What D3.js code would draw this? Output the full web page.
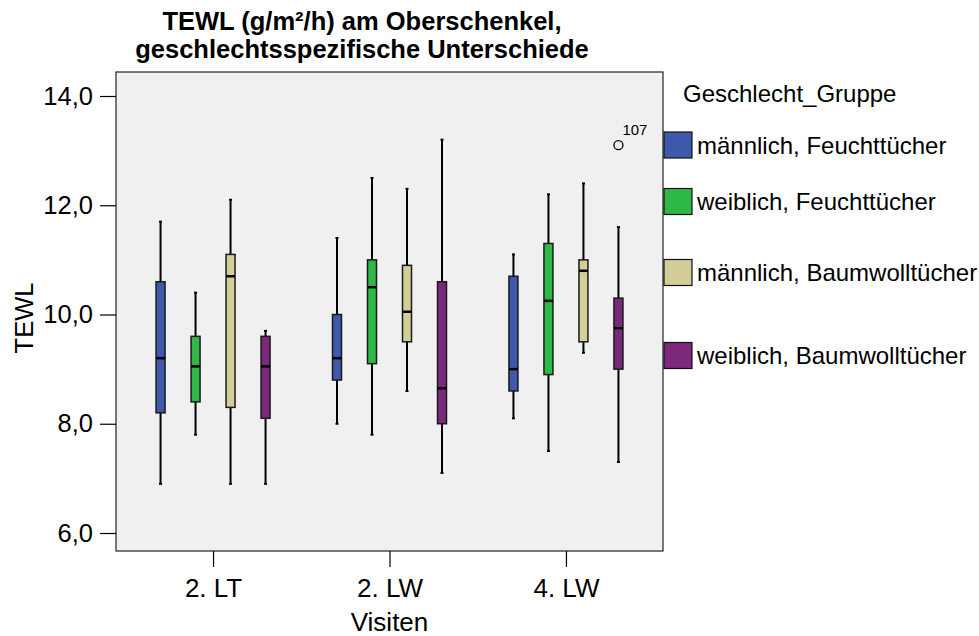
<!DOCTYPE html>
<html>
<head>
<meta charset="utf-8">
<script src="https://cdn.jsdelivr.net/npm/d3@7"></script>
<style>
  html, body { margin: 0; padding: 0; background: #ffffff; }
  svg text { font-family: "Liberation Sans", Arial, Helvetica, sans-serif; fill: #000; }
</style>
</head>
<body>
<svg id="chart" width="979" height="636"></svg>
<script>
// ---------------- data ----------------
const visits = ["2. LT", "2. LW", "4. LW"];
const groups = ["männlich, Feuchttücher", "weiblich, Feuchttücher", "männlich, Baumwolltücher", "weiblich, Baumwolltücher"];
const colors = ["#3E58AC", "#2EB848", "#D3CE97", "#7C287D"];
// per group: values for [2. LT, 2. LW, 4. LW]
const whiskerLow  = [[6.9, 8.0, 8.1], [7.8, 7.8, 7.5], [6.9, 8.6, 9.3], [6.9, 7.1, 7.3]];
const quartile1   = [[8.2, 8.8, 8.6], [8.4, 9.1, 8.9], [8.3, 9.5, 9.5], [8.1, 8.0, 9.0]];
const medians     = [[9.2, 9.2, 9.0], [9.05, 10.5, 10.25], [10.7, 10.05, 10.8], [9.05, 8.65, 9.75]];
const quartile3   = [[10.6, 10.0, 10.7], [9.6, 11.0, 11.3], [11.1, 10.9, 11.0], [9.6, 10.6, 10.3]];
const whiskerHigh = [[11.7, 11.4, 11.1], [10.4, 12.5, 12.2], [12.1, 12.3, 12.4], [9.7, 13.2, 11.6]];
const outliers = [{ group: 3, visit: "4. LW", value: 13.1, label: "107" }];
const yTicks = [6, 8, 10, 12, 14];
const titleLines = ["TEWL (g/m²/h) am Oberschenkel,", "geschlechtsspezifische Unterschiede"];
const yTitle = "TEWL";
const xTitle = "Visiten";
const legendTitle = "Geschlecht_Gruppe";

// ---------------- layout ----------------
const panel = { left: 116, right: 663, top: 72, bottom: 551 };
const svg = d3.select("#chart");
const fmt = d => d.toFixed(1).replace(".", ",");

const x = d3.scalePoint().domain(visits).range([panel.left, panel.right]).padding(0.55);
const inner = d3.scaleBand().domain(d3.range(groups.length)).range([-70, 70]);
const y = d3.scaleLinear().domain([6, 14]).range([533, 96]);
const boxW = 9;

// rows
const rows = [];
groups.forEach((g, gi) => visits.forEach((v, vi) => rows.push({
  gi, v,
  lo: whiskerLow[gi][vi], q1: quartile1[gi][vi], med: medians[gi][vi],
  q3: quartile3[gi][vi], hi: whiskerHigh[gi][vi]
})));
const cx = d => x(d.v) + inner(d.gi) + inner.bandwidth() / 2;

// panel background
svg.append("rect")
  .attr("x", panel.left).attr("y", panel.top)
  .attr("width", panel.right - panel.left).attr("height", panel.bottom - panel.top)
  .attr("fill", "#F0F0F0").attr("stroke", "#222").attr("stroke-width", 1.2);

// y axis
const yAxis = d3.axisLeft(y).tickValues(yTicks).tickFormat(fmt).tickSize(16).tickPadding(7);
const gy = svg.append("g").attr("transform", `translate(${panel.left},0)`).call(yAxis);
gy.select(".domain").remove();
gy.selectAll(".tick line").attr("stroke", "#000").attr("stroke-width", 1.2);
gy.selectAll(".tick text").attr("font-size", 25.5).attr("font-family", "Liberation Sans, Arial, sans-serif").attr("fill", "#000");

// x axis
const xAxis = d3.axisBottom(x).tickSize(16).tickPadding(12);
const gx = svg.append("g").attr("transform", `translate(0,${panel.bottom})`).call(xAxis);
gx.select(".domain").remove();
gx.selectAll(".tick line").attr("stroke", "#000").attr("stroke-width", 1.2);
gx.selectAll(".tick text").attr("font-size", 26).attr("font-family", "Liberation Sans, Arial, sans-serif").attr("fill", "#000");

// whiskers
const gBox = svg.append("g");
gBox.selectAll("line.whisk").data(rows).join("line")
  .attr("x1", cx).attr("x2", cx)
  .attr("y1", d => y(d.lo)).attr("y2", d => y(d.hi))
  .attr("stroke", "#000").attr("stroke-width", 2);
// caps
gBox.selectAll("line.capLo").data(rows).join("line")
  .attr("x1", d => cx(d) - 1.5).attr("x2", d => cx(d) + 1.5)
  .attr("y1", d => y(d.lo)).attr("y2", d => y(d.lo))
  .attr("stroke", "#000").attr("stroke-width", 2);
gBox.selectAll("line.capHi").data(rows).join("line")
  .attr("x1", d => cx(d) - 1.5).attr("x2", d => cx(d) + 1.5)
  .attr("y1", d => y(d.hi)).attr("y2", d => y(d.hi))
  .attr("stroke", "#000").attr("stroke-width", 2);
// boxes
gBox.selectAll("rect.box").data(rows).join("rect")
  .attr("x", d => cx(d) - boxW / 2).attr("width", boxW)
  .attr("y", d => y(d.q3)).attr("height", d => y(d.q1) - y(d.q3))
  .attr("fill", d => colors[d.gi]).attr("stroke", "#1a1a1a").attr("stroke-width", 1.5);
// medians
gBox.selectAll("line.med").data(rows).join("line")
  .attr("x1", d => cx(d) - boxW / 2).attr("x2", d => cx(d) + boxW / 2)
  .attr("y1", d => y(d.med)).attr("y2", d => y(d.med))
  .attr("stroke", "#000").attr("stroke-width", 2.5);

// outliers
outliers.forEach(o => {
  const ox = x(o.visit) + inner(o.group) + inner.bandwidth() / 2;
  svg.append("circle").attr("cx", ox).attr("cy", y(o.value)).attr("r", 4.5)
    .attr("fill", "none").attr("stroke", "#000").attr("stroke-width", 1.3);
  svg.append("text").attr("x", ox + 4).attr("y", y(o.value) - 10.5)
    .attr("font-size", 15).text(o.label);
});

// titles
svg.append("g").selectAll("text").data(titleLines).join("text")
  .attr("x", 362).attr("y", (d, i) => 29.5 + i * 28.5)
  .attr("text-anchor", "middle").attr("font-size", 25.5).attr("font-weight", "bold")
  .text(d => d);

svg.append("text")
  .attr("transform", `translate(33,318) rotate(-90)`)
  .attr("text-anchor", "middle").attr("font-size", 25.5).text(yTitle);

svg.append("text")
  .attr("x", (panel.left + panel.right) / 2).attr("y", 631)
  .attr("text-anchor", "middle").attr("font-size", 26).text(xTitle);

// legend
svg.append("text").attr("x", 683).attr("y", 102).attr("font-size", 24).text(legendTitle);
const legendTops = [132, 188.5, 259.5, 342.5];
const lg = svg.append("g").selectAll("g").data(groups).join("g")
  .attr("transform", (d, i) => `translate(664,${legendTops[i]})`);
lg.append("rect").attr("width", 28).attr("height", 26)
  .attr("fill", (d, i) => colors[i]).attr("stroke", "#111").attr("stroke-width", 1.2);
lg.append("text").attr("x", 33).attr("y", 21.5).attr("font-size", 24).text(d => d);
</script>
</body>
</html>
